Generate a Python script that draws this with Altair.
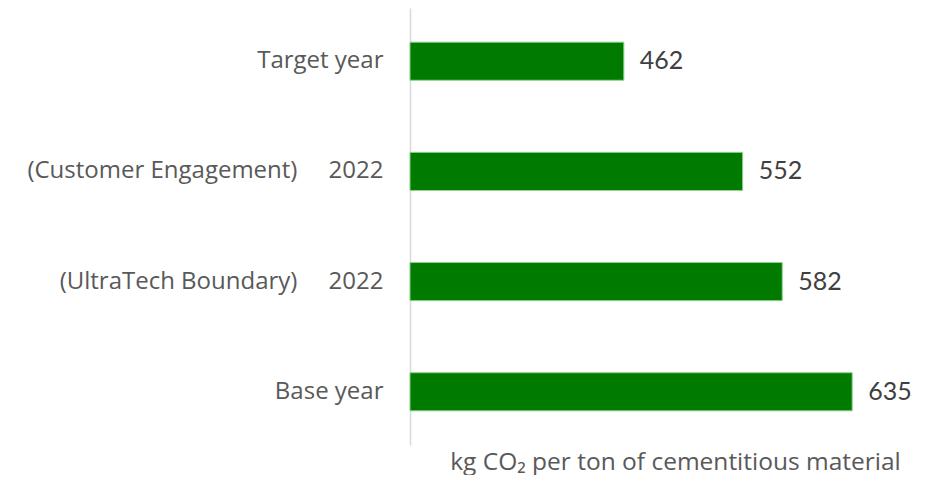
import altair as alt
import pandas as pd

GAP = "\u00a0" * 5
categories = ["Target year", "(Customer Engagement)" + GAP + "2022", "(UltraTech Boundary)" + GAP + "2022", "Base year"]
values = [462, 552, 582, 635]
axis_start = 300

df = pd.DataFrame({"category": categories, "value": values, "start": [axis_start] * len(values)})

FONT = "Open Sans"

y_enc = alt.Y(
    "category:N",
    sort=categories,
    scale=alt.Scale(paddingInner=0.654, paddingOuter=0.31),
    axis=alt.Axis(
        title=None, ticks=False, labelFontSize=24, labelColor="#595959",
        labelFont=FONT, labelPadding=27, domainColor="#d9d9d9", domainWidth=1.5,
        labelLimit=420,
    ),
)
x_enc = alt.X(
    "value:Q",
    scale=alt.Scale(domain=[300, 650], zero=False, nice=False),
    axis=alt.Axis(
        title="kg CO\u2082 per ton of cementitious material",
        labels=False, ticks=False, domain=False, grid=False,
        titleFont=FONT, titleFontSize=24.5, titleFontWeight="normal", titleColor="#595959",
        titleX=265, titleY=24, titleAlign="center", titleBaseline="alphabetic",
    ),
)

bars = alt.Chart(df).mark_bar(color="#007b00", stroke="#8fd18f", strokeWidth=1).encode(
    x=x_enc, x2="start:Q", y=y_enc
)
labels = alt.Chart(df).mark_text(
    align="left", baseline="middle", dx=16, font="Lato", fontSize=25, color="#404040"
).encode(
    x=alt.X("value:Q"), y=alt.Y("category:N", sort=categories), text=alt.Text("value:Q")
)

chart = (
    alt.layer(bars, labels)
    .properties(
        width=462, height=437,
        autosize=alt.AutoSizeParams(type="none"),
        padding={"left": 402, "top": 0, "right": 47, "bottom": 30},
        view=alt.ViewBackground(stroke="transparent", strokeWidth=0),
    )
    .configure_view(stroke="transparent", strokeWidth=0)
    .configure(background="white")
)

chart.save("out.html", embed_options={"renderer": "svg", "actions": False})
